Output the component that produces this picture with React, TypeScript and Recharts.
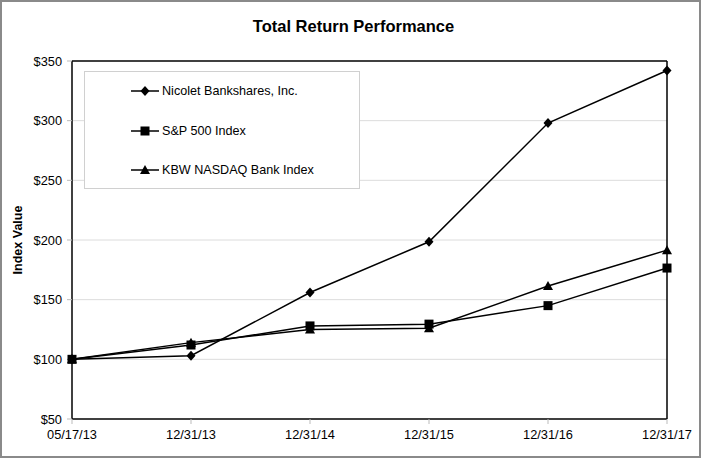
import React from "react";
import {
  LineChart,
  Line,
  XAxis,
  YAxis,
  CartesianGrid,
  ReferenceLine,
} from "recharts";

const dates = ["05/17/13", "12/31/13", "12/31/14", "12/31/15", "12/31/16", "12/31/17"];
const nicolet = [100, 103, 156, 198.5, 298, 342];
const sp500 = [100, 112, 128, 129.5, 145, 176.5];
const kbw = [100, 114, 125, 126, 161.5, 191.5];
const yTicks = [50, 100, 150, 200, 250, 300, 350];

const seriesNames = {
  nicolet: "Nicolet Bankshares, Inc.",
  sp500: "S&P 500 Index",
  kbw: "KBW NASDAQ Bank Index",
};

const data = dates.map((d, i) => ({
  date: d,
  nicolet: nicolet[i],
  sp500: sp500[i],
  kbw: kbw[i],
}));

const FONT = "'Liberation Sans', Arial, sans-serif";

type Shape = "diamond" | "square" | "triangle";

function Marker({ cx, cy, shape }: { cx: number; cy: number; shape: Shape }) {
  if (cx == null || cy == null) return null;
  if (shape === "diamond") {
    return <polygon points={`${cx},${cy - 5} ${cx + 4.5},${cy} ${cx},${cy + 5} ${cx - 4.5},${cy}`} fill="#000" />;
  }
  if (shape === "square") {
    return <rect x={cx - 4.5} y={cy - 4.5} width={9} height={9} fill="#000" />;
  }
  return <polygon points={`${cx},${cy - 5} ${cx + 5},${cy + 4} ${cx - 5},${cy + 4}`} fill="#000" />;
}

const dotFor = (shape: Shape) => (props: any) => (
  <Marker key={`${shape}-${props.index}`} cx={props.cx} cy={props.cy} shape={shape} />
);

const legendRows: { key: keyof typeof seriesNames; shape: Shape }[] = [
  { key: "nicolet", shape: "diamond" },
  { key: "sp500", shape: "square" },
  { key: "kbw", shape: "triangle" },
];

function LegendBox() {
  return (
    <div
      style={{
        position: "absolute",
        left: 84,
        top: 71,
        width: 276,
        height: 118,
        boxSizing: "border-box",
        border: "1px solid #d0d0d0",
        background: "#fff",
        fontFamily: FONT,
        fontSize: 12.6,
        color: "#000",
      }}
    >
      {legendRows.map((r, i) => (
        <div
          key={r.key}
          style={{
            position: "absolute",
            left: 46,
            top: 11 + i * 39.5,
            display: "flex",
            alignItems: "center",
            height: 16,
          }}
        >
          <svg width={28} height={12} style={{ marginRight: 3 }}>
            <line x1={0} y1={6} x2={28} y2={6} stroke="#000" strokeWidth={1.5} />
            <Marker cx={14} cy={6} shape={r.shape} />
          </svg>
          <span>{seriesNames[r.key]}</span>
        </div>
      ))}
    </div>
  );
}

const tickStyle = { fontSize: 12.8, fill: "#000", fontFamily: FONT };

export default function App() {
  return (
    <div
      style={{
        position: "relative",
        width: 701,
        height: 458,
        background: "#fff",
        fontFamily: FONT,
      }}
    >
      <style>{"body{margin:0}"}</style>
      <div style={{ position: "absolute", left: 0, top: 0 }}>
        <LineChart
          width={701}
          height={458}
          data={data}
          margin={{ top: 61, right: 34, bottom: 14, left: 12 }}
        >
          <CartesianGrid vertical={false} stroke="#dcdcdc" horizontalValues={[100, 150, 200, 250, 300]} />
          <XAxis
            dataKey="date"
            interval={0}
            height={25}
            tick={tickStyle}
            tickLine={{ stroke: "#bbb" }}
            tickSize={5}
            tickMargin={6}
            axisLine={{ stroke: "#000", strokeWidth: 1.5 }}
          />
          <YAxis
            width={60}
            domain={[50, 350]}
            ticks={yTicks}
            tickFormatter={(v: number) => `$${v}`}
            tick={tickStyle}
            tickLine={{ stroke: "#bbb" }}
            tickSize={5}
            tickMargin={5}
            axisLine={{ stroke: "#000", strokeWidth: 1.5 }}
          />
          <ReferenceLine y={350} stroke="#000" strokeWidth={1.5} />
          <ReferenceLine x="12/31/17" stroke="#000" strokeWidth={1.5} />
          <Line
            dataKey="kbw"
            name={seriesNames.kbw}
            stroke="#000"
            strokeWidth={1.5}
            dot={dotFor("triangle")}
            isAnimationActive={false}
          />
          <Line
            dataKey="sp500"
            name={seriesNames.sp500}
            stroke="#000"
            strokeWidth={1.5}
            dot={dotFor("square")}
            isAnimationActive={false}
          />
          <Line
            dataKey="nicolet"
            name={seriesNames.nicolet}
            stroke="#000"
            strokeWidth={1.5}
            dot={dotFor("diamond")}
            isAnimationActive={false}
          />
        </LineChart>
      </div>
      <LegendBox />
      <div
        style={{
          position: "absolute",
          top: 17,
          left: 0,
          width: 707,
          textAlign: "center",
          fontWeight: "bold",
          fontSize: 16.5,
        }}
      >
        Total Return Performance
      </div>
      <div
        style={{
          position: "absolute",
          left: 18,
          top: 240,
          transform: "translate(-50%, -50%) rotate(-90deg)",
          fontWeight: "bold",
          fontSize: 12.5,
          whiteSpace: "nowrap",
        }}
      >
        Index Value
      </div>
      <div
        style={{
          position: "absolute",
          left: 0,
          top: 0,
          width: 701,
          height: 458,
          boxSizing: "border-box",
          border: "2px solid #8a8a8a",
          pointerEvents: "none",
        }}
      />
    </div>
  );
}
